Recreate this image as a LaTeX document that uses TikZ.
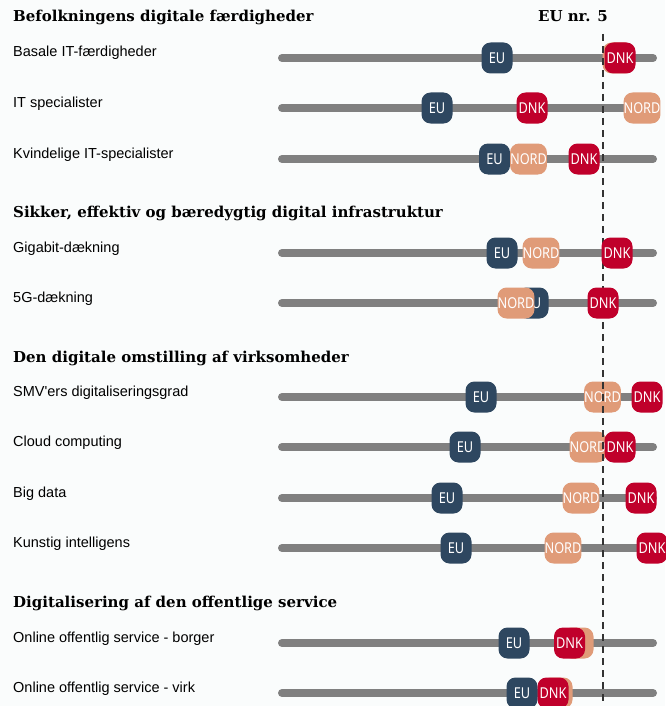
\documentclass[tikz,border=0pt]{standalone}
\usepackage{fontspec}
\setmainfont{Liberation Sans}
\newfontfamily\headfont{DejaVu Serif}
\newfontfamily\badgefont{Noto Sans}
\definecolor{paper}{HTML}{FAFCFC}
\definecolor{eublue}{HTML}{2E4760}
\definecolor{nordtan}{HTML}{E09B78}
\definecolor{dnkred}{HTML}{C0002B}
\definecolor{bargray}{HTML}{808080}
\definecolor{cutgray}{HTML}{333333}
\newcommand{\narrow}[1]{\scalebox{0.85}[1]{#1}}
% name/y/label/EU/NORD/DNK/NORD text (hidden behind DNK in some rows)
\newcommand{\rowdata}{%
ba/58/Basale IT-færdigheder/497/618/620/\relax,
its/108/IT specialister/437/642/532/NORD,
kv/159/Kvindelige IT-specialister/494.5/528.5/584/NORD,
gig/253/Gigabit-dækning/502/541/617/NORD,
fg/303/5G-dækning/533/516/603/NORD,
smv/397/SMV\textquotesingle ers digitaliseringsgrad/481/602.5/647/NORD,
cl/447/Cloud computing/465/588/620/NORD,
bd/498/Big data/447/581/641/NORD,
ki/548/Kunstig intelligens/456/563/652/NORD,
ob/643/Online offentlig service - borger/514/578/569.5/\relax,
ov/693/Online offentlig service - virk/522/557/553/\relax}
\begin{document}
\begin{tikzpicture}[x=1pt,y=-1pt,
	heading/.style={anchor=base west,inner sep=0pt,font=\headfont\bfseries\fontsize{15}{18}\selectfont},
	rowlabel/.style={anchor=base west,inner sep=0pt,font=\fontsize{14.5}{17}\selectfont},
	bar/.style={draw=bargray,line width=8pt,line cap=round},
	badge/.style={rounded corners=9pt,minimum width=31pt,minimum height=31pt,inner sep=0pt,
		text=white,font=\badgefont\fontsize{15}{15}\selectfont},
	eu/.style={badge,fill=eublue},
	nord/.style={badge,fill=nordtan},
	dnk/.style={badge,fill=dnkred},
	cutline/.style={draw=cutgray,line width=2pt,dash pattern=on 7pt off 5pt}]
\path[use as bounding box,fill=paper] (0,0) rectangle (665,706);

% headings
\node[heading] (hbefolk) at (13,22) {Befolkningens digitale færdigheder};
\node[heading] (hinfra) at (13,217) {Sikker, effektiv og bæredygtig digital infrastruktur};
\node[heading] (hvirk) at (13,362) {Den digitale omstilling af virksomheder};
\node[heading] (hoff) at (13,607) {Digitalisering af den offentlige service};
\node[heading,anchor=base] (heunr) at (573,22) {EU nr. 5};

% rows
\foreach \name/\y/\txt/\eu/\nord/\dnk/\nt in \rowdata {
	\node[rowlabel] (lab\name) at (13,\y-1) {\txt};
	\coordinate (bs\name) at (282,\y);
	\coordinate (be\name) at (653,\y);
	\draw[bar] (bs\name) -- (be\name);
	\node[eu] (eu\name) at (\eu,\y) {\narrow{EU}};
	\node[nord] (nord\name) at (\nord,\y) {\narrow{\nt}};
}

% EU nr. 5 marker
\coordinate (cuttop) at (603,34);
\coordinate (cutbot) at (603,706);
\draw[cutline] (cuttop) -- (cutbot);

\foreach \name/\y/\txt/\eu/\nord/\dnk/\nt in \rowdata {
	\node[dnk] (dnk\name) at (\dnk,\y) {\narrow{DNK}};
}
\end{tikzpicture}
\end{document}
